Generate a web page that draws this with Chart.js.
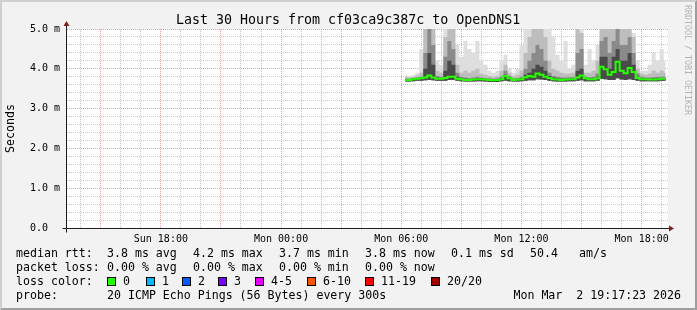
<!DOCTYPE html>
<html>
<head>
<meta charset="utf-8">
<script src="https://cdn.jsdelivr.net/npm/chart.js@4.4.1/dist/chart.umd.min.js"></script>
<style>
html, body { margin: 0; padding: 0; }
body { width: 697px; height: 310px; overflow: hidden; position: relative; font-family: 'DejaVu Sans Mono', monospace; }
#frame { position: absolute; left: 0; top: 0; width: 697px; height: 310px; box-sizing: border-box; background: #f2f2f2;
  border-top: 2px solid #cfcfcf; border-left: 2px solid #cfcfcf; border-right: 2px solid #9e9e9e; border-bottom: 2px solid #9e9e9e; }
#chart { position: absolute; left: 0; top: 0; }
.txt { position: absolute; white-space: pre; font-size: 11.6px; line-height: 11.6px; color: #000; }
.box { position: absolute; width: 9px; height: 9px; box-sizing: border-box; border: 1px solid #000; }
#title { position: absolute; left: 176px; top: 12.7px; font-size: 13.3px; line-height: 13.3px; white-space: pre; color: #000; }
#mark { position: absolute; left: 684px; top: 5px; writing-mode: vertical-rl; font-size: 8.3px; line-height: 8.3px; color: #b4b4b4; white-space: pre; }
</style>
</head>
<body>
<div id="frame"></div>
<canvas id="chart" width="697" height="310"></canvas>
<div id="title">Last 30 Hours from cf03ca9c387c to OpenDNS1</div>
<div id="mark">RRDTOOL / TOBI OETIKER</div>
<div id="legend"></div>
<script>
// --- ข้อมูลที่อ่านจากกราฟ (หน่วย ms แสดงเป็น m = milli) ---
// เวลาเป็นชั่วโมงนับจาก Sun 00:00, ทุก 12 นาที เริ่ม Mon 06:12
const sampleStart = 30.2;
const sampleStep = 0.2;

const median = [3.72, 3.72, 3.74, 3.75, 3.76, 3.78, 3.83, 3.78, 3.75, 3.75,
  3.77, 3.80, 3.80, 3.75, 3.74, 3.72, 3.72, 3.73, 3.74, 3.74,
  3.73, 3.72, 3.71, 3.72, 3.74, 3.82, 3.76, 3.72, 3.73, 3.74,
  3.79, 3.82, 3.80, 3.88, 3.85, 3.80, 3.77, 3.74, 3.73, 3.72,
  3.73, 3.74, 3.74, 3.78, 3.83, 3.76, 3.74, 3.74, 3.76, 4.05,
  3.99, 3.85, 3.92, 4.18, 3.95, 3.89, 4.02, 3.92, 3.77, 3.74,
  3.74, 3.73, 3.73, 3.74, 3.75, 3.75];

const pingMin = [3.68, 3.68, 3.69, 3.70, 3.70, 3.71, 3.72, 3.71, 3.70, 3.70,
  3.70, 3.72, 3.72, 3.70, 3.69, 3.68, 3.68, 3.68, 3.69, 3.69,
  3.68, 3.67, 3.67, 3.67, 3.69, 3.70, 3.69, 3.68, 3.68, 3.69,
  3.70, 3.71, 3.71, 3.74, 3.73, 3.72, 3.70, 3.69, 3.68, 3.68,
  3.68, 3.69, 3.69, 3.70, 3.71, 3.69, 3.69, 3.69, 3.70, 3.75,
  3.74, 3.72, 3.72, 3.76, 3.73, 3.72, 3.74, 3.72, 3.70, 3.69,
  3.69, 3.69, 3.69, 3.69, 3.70, 3.70];

const ping60 = [3.74, 3.74, 3.76, 3.77, 3.78, 4.00, 4.40, 4.10, 3.78, 3.77,
  3.95, 4.20, 4.10, 3.80, 3.76, 3.75, 3.74, 3.75, 3.77, 3.76,
  3.75, 3.74, 3.73, 3.74, 3.77, 3.85, 3.78, 3.74, 3.75, 3.77,
  3.85, 3.90, 4.00, 4.10, 4.05, 3.95, 3.82, 3.78, 3.76, 3.75,
  3.75, 3.76, 3.76, 3.95, 4.00, 3.78, 3.76, 3.77, 3.80, 4.30,
  4.30, 4.00, 4.30, 4.50, 4.20, 4.20, 4.40, 4.10, 3.80, 3.76,
  3.76, 3.75, 3.76, 3.77, 3.77, 3.77];

const ping75 = [3.76, 3.75, 3.77, 3.78, 3.80, 4.40, 5.00, 4.60, 3.82, 3.80,
  4.30, 4.70, 4.50, 3.90, 3.80, 3.78, 3.77, 3.78, 3.80, 3.78,
  3.77, 3.76, 3.75, 3.76, 3.80, 3.95, 3.82, 3.76, 3.77, 3.80,
  4.00, 4.20, 4.40, 4.60, 4.50, 4.20, 3.90, 3.82, 3.80, 3.78,
  3.78, 3.79, 3.79, 4.40, 4.50, 3.80, 3.79, 3.80, 3.88, 4.70,
  4.80, 4.40, 4.70, 5.00, 4.60, 4.60, 4.80, 4.40, 3.88, 3.80,
  3.78, 3.78, 3.79, 3.80, 3.80, 3.80];

const ping90 = [3.80, 3.78, 3.80, 3.83, 3.90, 5.00, 5.00, 5.00, 3.95, 3.90,
  4.80, 5.00, 5.00, 4.10, 3.90, 3.95, 3.90, 3.95, 4.00, 3.88,
  3.85, 3.82, 3.80, 3.82, 3.95, 4.10, 3.90, 3.82, 3.85, 3.95,
  4.40, 4.80, 5.00, 5.00, 5.00, 4.80, 4.20, 4.00, 3.95, 3.90,
  3.88, 3.88, 3.90, 5.00, 4.90, 3.90, 3.90, 3.95, 4.20, 5.00,
  5.00, 5.00, 5.00, 5.00, 5.00, 5.00, 5.00, 4.80, 4.00, 3.88,
  3.85, 3.88, 3.95, 3.90, 3.95, 3.90];

const pingMax = [3.85, 3.82, 3.84, 3.90, 4.50, 5.00, 5.00, 5.00, 4.20, 4.10,
  5.00, 5.00, 5.00, 4.60, 4.30, 4.70, 4.50, 4.40, 4.70, 4.20,
  4.10, 3.95, 3.90, 3.95, 4.20, 4.35, 4.00, 3.90, 4.00, 4.60,
  5.00, 5.00, 5.00, 5.00, 5.00, 5.00, 5.00, 4.80, 4.35, 4.20,
  4.70, 4.00, 4.10, 5.00, 5.00, 4.10, 4.50, 4.20, 4.60, 5.00,
  5.00, 5.00, 5.00, 5.00, 5.00, 5.00, 5.00, 4.90, 4.20, 3.95,
  3.95, 4.10, 4.40, 4.20, 4.50, 4.20];

// แกน X: 30 ชั่วโมงย้อนหลังถึง Mon 19:17
const xMin = 13.315;
const xMax = 43.315;
const tickHours = [18, 24, 30, 36, 42];
const tickLabels = ['Sun 18:00', 'Mon 00:00', 'Mon 06:00', 'Mon 12:00', 'Mon 18:00'];
const yLabels = ['0.0  ', '1.0 m', '2.0 m', '3.0 m', '4.0 m', '5.0 m'];

// ตารางข้อความด้านล่าง
const legendRows = [
  [[16, 'median rtt:'], [107, '3.8 ms avg'], [193, '4.2 ms max'], [279, '3.7 ms min'], [365, '3.8 ms now'], [451, '0.1 ms sd'], [530, '50.4'], [579, 'am/s']],
  [[16, 'packet loss:'], [107, '0.00 % avg'], [193, '0.00 % max'], [279, '0.00 % min'], [365, '0.00 % now']],
  [[16, 'loss color:']],
  [[16, 'probe:'], [107, '20 ICMP Echo Pings (56 Bytes) every 300s']]
];
const lossLabels = ['0', '1', '2', '3', '4-5', '6-10', '11-19', '20/20'];
const lossColors = ['#26ff00', '#00b8ff', '#0059ff', '#7e00ff', '#e600ff', '#ff5500', '#ff0000', '#a10000'];
const lossBoxX = [107, 146, 182, 218, 255, 307, 365, 431];
const stampText = 'Mon Mar  2 19:17:23 2026';

const MINOR = 'rgba(143, 143, 143, 0.5)';
const MAJOR = 'rgba(222, 79, 79, 0.55)';

// ----------------------------------------------------
// ข้อความ legend ด้านล่าง (HTML)
// ----------------------------------------------------
const rowBase = [258, 272, 286, 300];
const legendEl = document.getElementById('legend');
function addText(x, base, text, right) {
  const s = document.createElement('span');
  s.className = 'txt';
  s.textContent = text;
  s.style.top = (base - 9.8) + 'px';
  if (right) s.style.right = (697 - x) + 'px'; else s.style.left = x + 'px';
  legendEl.appendChild(s);
}
legendRows.forEach((row, r) => row.forEach(([x, t]) => addText(x, rowBase[r], t)));
lossLabels.forEach((lab, i) => {
  const b = document.createElement('div');
  b.className = 'box';
  b.style.left = lossBoxX[i] + 'px';
  b.style.top = '277px';
  b.style.background = lossColors[i];
  legendEl.appendChild(b);
  addText(lossBoxX[i] + 16, rowBase[2], lab);
});
addText(681, rowBase[3], stampText, true);

// ----------------------------------------------------
// กราฟ
// ----------------------------------------------------
const pts = arr => arr.map((v, i) => ({ x: sampleStart + i * sampleStep, y: v }));
const isInt = v => Math.abs(v - Math.round(v)) < 1e-6;

const rrdFrame = {
  id: 'rrdFrame',
  beforeDraw(chart) {
    const { ctx, chartArea: a } = chart;
    ctx.save();
    ctx.fillStyle = '#ffffff';
    ctx.fillRect(a.left, a.top, a.right - a.left, a.bottom - a.top);
    ctx.restore();
  },
  afterDraw(chart) {
    const { ctx, chartArea: a } = chart;
    const l = Math.round(a.left) - 0.5, b = Math.round(a.bottom) + 0.5;
    ctx.save();
    ctx.strokeStyle = '#1f1f1f';
    ctx.lineWidth = 1;
    ctx.beginPath();
    ctx.moveTo(l, b + 4); ctx.lineTo(l, a.top - 3);
    ctx.moveTo(l - 4, b); ctx.lineTo(a.right + 1, b);
    ctx.stroke();
    ctx.fillStyle = '#801f1f';
    ctx.beginPath();
    ctx.moveTo(l - 3, a.top - 3); ctx.lineTo(l + 3, a.top - 3); ctx.lineTo(l, a.top - 8); ctx.closePath(); ctx.fill();
    ctx.beginPath();
    ctx.moveTo(a.right + 1, b - 3); ctx.lineTo(a.right + 1, b + 3); ctx.lineTo(a.right + 6, b); ctx.closePath(); ctx.fill();
    ctx.restore();
  }
};

Chart.defaults.font.family = "'DejaVu Sans Mono', monospace";
Chart.defaults.color = '#000000';

const smoke = (label, data, color, order) => ({
  label: label, data: pts(data), borderWidth: 0, borderColor: 'rgba(0,0,0,0)', pointRadius: 0,
  stepped: 'middle', fill: { target: 1 }, backgroundColor: color, order: order
});

new Chart(document.getElementById('chart'), {
  type: 'line',
  data: {
    datasets: [
      { label: 'median', data: pts(median), borderColor: '#26ff00', borderWidth: 2, pointRadius: 0,
        stepped: 'middle', fill: false, order: 0 },
      { label: 'min', data: pts(pingMin), borderWidth: 0, borderColor: 'rgba(0,0,0,0)', pointRadius: 0,
        stepped: 'middle', fill: false, order: 1 },
      smoke('p60', ping60, '#4a4a4a', 2),
      smoke('p75', ping75, '#8a8a8a', 3),
      smoke('p90', ping90, '#bdbdbd', 4),
      smoke('max', pingMax, '#dedede', 5)
    ]
  },
  options: {
    responsive: false,
    animation: false,
    devicePixelRatio: 1,
    layout: { padding: { left: 0, top: 29, right: 29, bottom: 62 } },
    plugins: { legend: { display: false }, tooltip: { enabled: false } },
    scales: {
      x: {
        type: 'linear', min: xMin, max: xMax,
        afterBuildTicks: s => { const t = []; for (let h = 14; h <= 43; h++) t.push({ value: h }); s.ticks = t; },
        afterFit: s => { s.height = 20; },
        ticks: {
          autoSkip: false, maxRotation: 0, minRotation: 0, padding: 5, font: { size: 10 },
          callback: v => { const k = tickHours.indexOf(v); return k >= 0 ? tickLabels[k] : ''; }
        },
        grid: { drawTicks: false, lineWidth: 1, color: c => (c.tick && c.tick.value % 3 === 0) ? MAJOR : MINOR },
        border: { display: false, dash: [1, 1] }
      },
      y: {
        type: 'linear', min: 0, max: 5,
        afterBuildTicks: s => { const t = []; for (let k = 0; k <= 25; k++) t.push({ value: +(k * 0.2).toFixed(1) }); s.ticks = t; },
        afterFit: s => { s.width = 67; },
        ticks: {
          autoSkip: false, padding: 7, font: { size: 10 },
          callback: v => isInt(v) ? yLabels[Math.round(v)] : ''
        },
        grid: { drawTicks: false, lineWidth: 1, color: c => (c.tick && isInt(c.tick.value)) ? MAJOR : MINOR },
        border: { display: false, dash: [1, 1] },
        title: { display: true, text: 'Seconds', font: { size: 11.6 }, padding: { top: 4, bottom: 0 } }
      }
    }
  },
  plugins: [rrdFrame]
});
</script>
</body>
</html>
